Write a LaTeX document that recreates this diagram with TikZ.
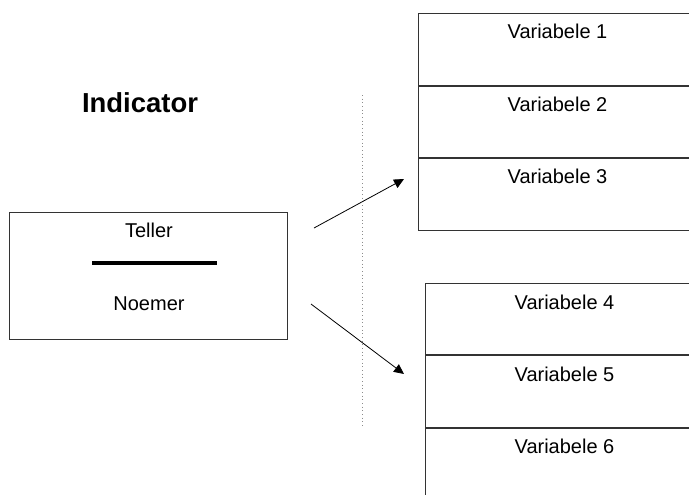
\documentclass[tikz,border=0pt]{standalone}
\usepackage{fontspec}
\setmainfont{Liberation Sans}
\usetikzlibrary{arrows.meta}
\begin{document}
\begin{tikzpicture}[x=0.75pt,y=-0.75pt,
  every node/.style={font=\fontsize{15pt}{18pt}\selectfont, inner sep=0pt},
  frame/.style={draw=black!80, line width=0.75pt},
  cell/.style={frame, minimum width=208.5pt, minimum height=53.75pt, anchor=north west},
  cellb/.style={frame, minimum width=208.5pt, minimum height=53.5pt, anchor=north west},
  celltext/.style={anchor=center},
  link/.style={line width=0.6pt, -{Triangle[length=7.5pt,width=7pt]}},
  divider/.style={draw=black!45, line width=0.75pt, dotted}]
\useasboundingbox (0,0) rectangle (689,494);
\clip (0,0) rectangle (689,494);

% heading
\node[font=\fontsize{20.6pt}{24pt}\selectfont\bfseries] (title) at (140,102.5) {Indicator};

% fraction box
\node[frame, minimum width=208.5pt, minimum height=95.25pt] (ratio) at (148,275.5) {};
\node (teller) at (149,230) {Teller};
\node (noemer) at (149,304) {Noemer};
\coordinate (barL) at (92,263);
\coordinate (barR) at (217,263);
\draw[line width=2.3pt] (barL) -- (barR);

% first group of variables
\node[cell] (v1) at (418,13) {};
\node[cell] (v2) at (v1.south west) {};
\node[cell] (v3) at (v2.south west) {};
\foreach \i/\t in {1/Variabele 1,2/Variabele 2,3/Variabele 3}
  \node[celltext] (t\i) at ([yshift=-18.5*0.75pt]v\i.north) {\t};

% second group of variables
\node[cellb] (v4) at (425,283) {};
\node[cellb] (v5) at (v4.south west) {};
\node[cellb] (v6) at (v5.south west) {};
\foreach \i/\t in {4/Variabele 4,5/Variabele 5,6/Variabele 6}
  \node[celltext] (t\i) at ([yshift=-19*0.75pt]v\i.north) {\t};

% separator
\coordinate (sepTop) at (362.5,95);
\coordinate (sepBot) at (362.5,428);
\draw[divider] (sepTop) -- (sepBot);

% connectors
\coordinate (a1s) at (314,228);
\coordinate (a1e) at (404,179);
\coordinate (a2s) at (311,304);
\coordinate (a2e) at (404,374);
\draw[link] (a1s) -- (a1e);
\draw[link] (a2s) -- (a2e);
\end{tikzpicture}
\end{document}
